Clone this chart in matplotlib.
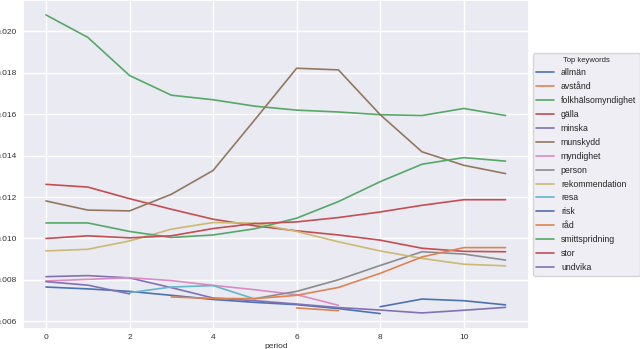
import numpy as np
import pandas as pd
import matplotlib
matplotlib.use("Agg")
import matplotlib.pyplot as plt
import seaborn as sns

nan = np.nan
periods = list(range(12))

allman = [0.00766, 0.00757, 0.00745, 0.00726, 0.00706, 0.00692, 0.00681, 0.00662, 0.00638, nan, nan, nan]
avstand = [nan, nan, nan, nan, nan, nan, 0.00665, 0.00652, nan, nan, nan, nan]
folkhalsomyndighet = [0.02078, 0.0197, 0.01786, 0.01691, 0.01669, 0.01638, 0.01619, 0.0161, 0.01597, 0.01593, 0.01627, 0.01593]
galla = [0.01261, 0.01248, 0.01192, 0.01141, 0.01093, 0.01061, 0.01037, 0.01017, 0.00992, 0.00953, 0.00938, 0.00936]
minska = [0.00816, 0.00821, 0.0081, 0.00763, 0.00713, 0.007, 0.00684, 0.00667, 0.00655, 0.00641, 0.00654, 0.00668]
munskydd = [0.01181, 0.01137, 0.01133, 0.01213, 0.01328, 0.01573, 0.01821, 0.01813, 0.01597, 0.01418, 0.01353, 0.01313]
myndighet = [0.00795, 0.00803, 0.00811, 0.00797, 0.00774, 0.00753, 0.00729, 0.00678, nan, nan, nan, nan]
person = [nan, nan, nan, nan, nan, 0.0071, 0.00745, 0.00801, 0.0087, 0.00936, 0.00925, 0.00896]
rekommendation = [0.0094, 0.00948, 0.00988, 0.01045, 0.01077, 0.01074, 0.01034, 0.00984, 0.0094, 0.00904, 0.00876, 0.00868]
resa = [nan, nan, 0.00739, 0.00766, 0.00773, 0.00708, nan, nan, nan, nan, nan, nan]
risk = [nan, nan, nan, nan, nan, nan, nan, nan, 0.00671, 0.00708, 0.007, 0.0068]
rad = [nan, nan, nan, 0.00718, 0.00711, 0.0071, 0.00726, 0.00764, 0.00832, 0.00911, 0.00956, 0.00956]
smittspridning = [0.01075, 0.01075, 0.01034, 0.01005, 0.01017, 0.01047, 0.01098, 0.01178, 0.01274, 0.01358, 0.0139, 0.01373]
stor = [0.0100, 0.01013, 0.01003, 0.01013, 0.01048, 0.01072, 0.0108, 0.01101, 0.01128, 0.0116, 0.01187, 0.01187]
undvika = [0.00792, 0.00775, 0.00733, nan, nan, nan, nan, nan, nan, nan, nan, nan]

df = pd.DataFrame({
    "allmän": allman,
    "avstånd": avstand,
    "folkhälsomyndighet": folkhalsomyndighet,
    "gälla": galla,
    "minska": minska,
    "munskydd": munskydd,
    "myndighet": myndighet,
    "person": person,
    "rekommendation": rekommendation,
    "resa": resa,
    "risk": risk,
    "råd": rad,
    "smittspridning": smittspridning,
    "stor": stor,
    "undvika": undvika,
}, index=pd.Index(periods, name="period"))

sns.set_theme(style="darkgrid", palette="deep")
plt.rcParams["font.family"] = ["Liberation Sans", "DejaVu Sans"]

fig = plt.figure(figsize=(6.4, 3.49), dpi=100)
ax = fig.add_axes([23 / 640, 1 - 328.5 / 349, 505.5 / 640, 328.5 / 349])
df.plot(ax=ax, linewidth=1.2)

ax.set_xticks([0, 2, 4, 6, 8, 10])
ax.tick_params(axis="both", labelsize=6, length=0, pad=4.2, labelcolor="#333333")
ax.set_xlabel("period", fontsize=6, labelpad=1.5, color="#333333")
leg = ax.legend(title="Top keywords", loc="center left", bbox_to_anchor=(1.0, 0.5),
                fontsize=6.3, title_fontsize=5.5, handlelength=2.0, labelspacing=0.56)

fig.savefig("out.png", dpi=100)
